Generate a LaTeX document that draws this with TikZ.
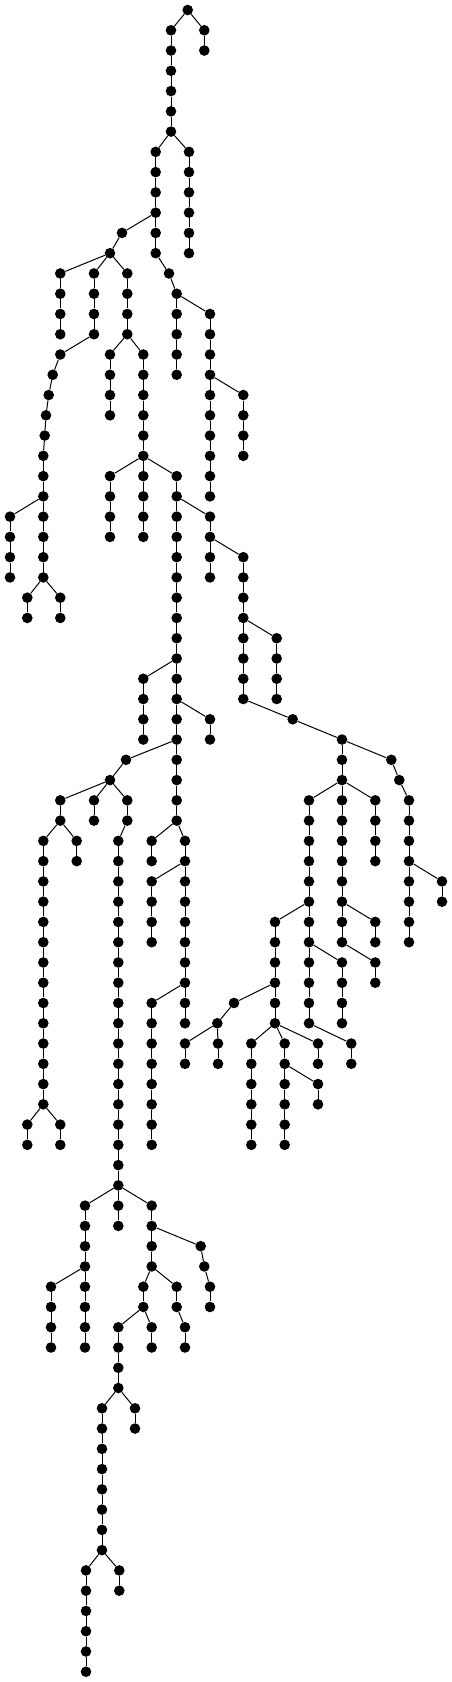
\documentclass[tikz,border=0pt]{standalone}
\newcommand{\chn}[4]{%
  \foreach \lv in {#3,...,#4}{%
    \node[dot] (#1-\lv) at (#2,\lv) {};
    \ifnum\lv>#3\relax
      \pgfmathtruncatemacro{\prv}{\lv-1}%
      \draw[edge] (#1-\prv) -- (#1-\lv);
    \fi
  }%
}
\begin{document}
\begin{tikzpicture}[dot/.style={circle,fill=black,inner sep=0pt,minimum size=10.6pt}, edge/.style={line width=1pt}]
\useasboundingbox (0pt,0pt) rectangle (452pt,-1682pt);
\begin{scope}[x=1pt,y=-20.265pt,yshift=-10pt]
\node[dot] (r-0) at (187.7,0) {};
\chn{b}{204.3}{1}{2}
\chn{a}{171}{1}{6}
\chn{c}{189}{7}{12}
\chn{d}{155.7}{7}{12}
\node[dot] (e-11) at (122,11) {};
\node[dot] (e-12) at (110,12) {};
\chn{f}{60.3}{13}{16}
\chn{g}{94}{13}{16}
\chn{h}{127.3}{13}{16}
\node[dot] (gg-17) at (60.3,17) {};
\node[dot] (gg-18) at (52.7,18) {};
\node[dot] (gg-19) at (48.7,19) {};
\node[dot] (gg-20) at (46,20) {};
\node[dot] (gg-21) at (44.7,21) {};
\chn{j}{43.3}{22}{28}
\chn{i}{10}{25}{28}
\chn{k}{27.3}{29}{30}
\chn{l}{60.3}{29}{30}
\chn{p}{110}{17}{20}
\chn{q}{143.3}{17}{22}
\chn{rr}{110}{23}{26}
\chn{s}{143.3}{23}{26}
\chn{u}{176.7}{23}{40}
\chn{v}{210}{25}{28}
\chn{w}{243.3}{27}{34}
\chn{x}{276.7}{31}{34}
\node[dot] (y-35) at (292.7,35) {};
\chn{z}{342}{36}{38}
\node[dot] (zb-37) at (391.3,37) {};
\node[dot] (zb-38) at (399.3,38) {};
\chn{zc}{409}{39}{46}
\chn{zd}{442}{43}{44}
\chn{m}{309}{39}{50}
\chn{n}{342}{39}{46}
\chn{o}{375.3}{39}{42}
\chn{nb}{375.3}{45}{46}
\chn{nc}{375.3}{47}{48}
\chn{mb}{342}{47}{50}
\chn{mc}{351.3}{51}{52}
\chn{t}{275}{45}{50}
\node[dot] (ta-49) at (234,49) {};
\node[dot] (tb-50) at (217.3,50) {};
\chn{tc}{185}{51}{52}
\chn{td}{218}{51}{52}
\chn{te}{251.3}{51}{56}
\chn{tf}{284.7}{51}{56}
\chn{tg}{318}{51}{52}
\chn{th}{318}{53}{54}
\node[dot] (cc-13) at (169,13) {};
\chn{ce}{176.7}{14}{18}
\chn{cf}{210}{15}{24}
\chn{cg}{243.3}{19}{22}
\chn{ua}{143.3}{33}{36}
\chn{ub}{210}{35}{36}
\node[dot] (uc-37) at (126,37) {};
\node[dot] (ud-38) at (110,38) {};
\chn{ue}{60.3}{39}{40}
\chn{uf}{94}{39}{40}
\chn{ug}{127.3}{39}{40}
\chn{uh}{43.3}{41}{54}
\chn{ui}{76.7}{41}{42}
\chn{uj}{27.3}{55}{56}
\chn{uk}{60.3}{55}{56}
\chn{ul}{118.3}{41}{58}
\chn{um}{85}{59}{66}
\chn{un}{118.3}{59}{60}
\chn{uo}{151.7}{59}{62}
\chn{up}{51}{63}{66}
\node[dot] (uq-61) at (200.7,61) {};
\node[dot] (uq-62) at (204.3,62) {};
\chn{ur}{210}{63}{64}
\chn{us}{143.3}{63}{64}
\chn{ut}{176.7}{63}{64}
\chn{uu}{118.3}{65}{68}
\chn{uv}{151.7}{65}{66}
\chn{uw}{185}{65}{66}
\chn{ux}{102}{69}{76}
\chn{uy}{135}{69}{70}
\chn{uz}{86}{77}{82}
\chn{va}{119.3}{77}{78}
\chn{wa}{151.7}{41}{42}
\chn{wb}{185}{41}{50}
\chn{wc}{151.7}{43}{46}
\chn{wd}{151.7}{49}{56}
\foreach \pa/\ch in {r-0/b-1, r-0/a-1, a-6/c-7, a-6/d-7, d-10/e-11, e-11/e-12, e-12/f-13, e-12/g-13, e-12/h-13,
  g-16/gg-17, gg-17/gg-18, gg-18/gg-19, gg-19/gg-20, gg-20/gg-21, gg-21/j-22, j-24/i-25, j-28/k-29, j-28/l-29,
  h-16/p-17, h-16/q-17, q-22/rr-23, q-22/s-23, q-22/u-23, u-24/v-25, v-26/w-27, w-30/x-31, w-34/y-35, y-35/z-36,
  z-36/zb-37, zb-37/zb-38, zb-38/zc-39, zc-42/zd-43, z-38/m-39, z-38/n-39, z-38/o-39, n-44/nb-45, n-46/nc-47,
  m-46/mb-47, m-50/mc-51, m-44/t-45, t-48/ta-49, ta-49/tb-50, tb-50/tc-51, tb-50/td-51, t-50/te-51, t-50/tf-51,
  t-50/tg-51, tf-52/th-53, d-12/cc-13, cc-13/ce-14, ce-14/cf-15, cf-18/cg-19, u-32/ua-33, u-34/ub-35, u-36/uc-37,
  uc-37/ud-38, ud-38/ue-39, ud-38/uf-39, ud-38/ug-39, ue-40/uh-41, ue-40/ui-41, uh-54/uj-55, uh-54/uk-55,
  ug-40/ul-41, ul-58/um-59, ul-58/un-59, ul-58/uo-59, um-62/up-63, uo-60/uq-61, uq-61/uq-62, uq-62/ur-63,
  uo-62/us-63, uo-62/ut-63, us-64/uu-65, us-64/uv-65, ut-64/uw-65, uu-68/ux-69, uu-68/uy-69, ux-76/uz-77,
  ux-76/va-77, u-40/wa-41, u-40/wb-41, wb-42/wc-43, wb-48/wd-49}
  {\draw[edge] (\pa) -- (\ch);}
\end{scope}
\end{tikzpicture}
\end{document}
